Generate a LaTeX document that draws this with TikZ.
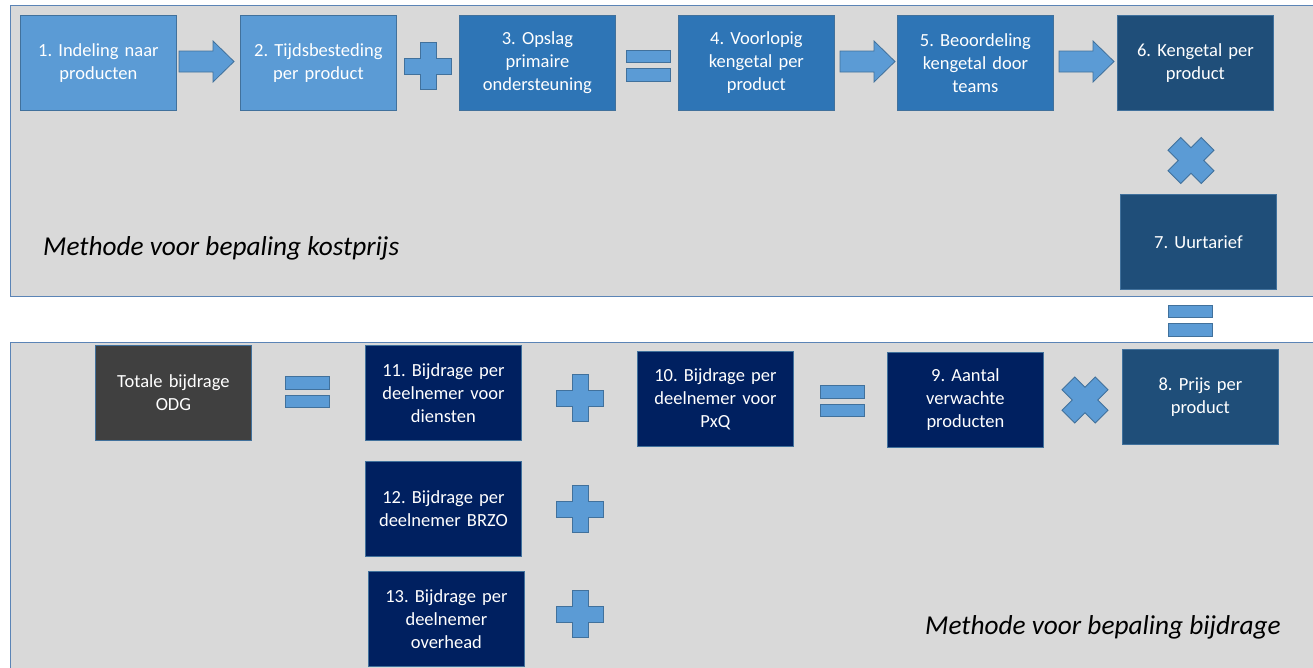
\documentclass[tikz,border=0pt]{standalone}
\usepackage{fontspec}
\setmainfont{Carlito}
\frenchspacing
\definecolor{frameb}{HTML}{5B84B6}
\definecolor{framef}{HTML}{D9D9D9}
\definecolor{lblue}{HTML}{5B9BD5}
\definecolor{mblue}{HTML}{2E75B6}
\definecolor{dblue}{HTML}{1F4E79}
\definecolor{navy}{HTML}{002060}
\definecolor{dgray}{HTML}{404040}
\definecolor{bord}{HTML}{41719C}
\tikzset{
  frame/.style={draw=frameb, fill=framef, line width=1},
  box/.style={draw=bord, line width=0.8, anchor=north west, minimum width=156, minimum height=95,
    text width=150, align=center, text=white, inner sep=0, font=\fontsize{18.5}{23}\selectfont},
  sym/.style={fill=lblue, draw=bord, line width=0.8},
  title/.style={font=\fontsize{27.3}{31}\selectfont\itshape, anchor=west, inner sep=0}
}
\newcommand{\plusat}[2]{\draw[sym] (#1,#2) ++(-8,-23.5) -- ++(16,0) -- ++(0,15.5) -- ++(15.5,0) -- ++(0,16) -- ++(-15.5,0) -- ++(0,15.5) -- ++(-16,0) -- ++(0,-15.5) -- ++(-15.5,0) -- ++(0,-16) -- ++(15.5,0) -- cycle;}
\newcommand{\timesat}[2]{\draw[sym, rotate around={45:(#1,#2)}] (#1,#2) ++(-9,-23.5) -- ++(18,0) -- ++(0,14.5) -- ++(14.5,0) -- ++(0,18) -- ++(-14.5,0) -- ++(0,14.5) -- ++(-18,0) -- ++(0,-14.5) -- ++(-14.5,0) -- ++(0,-18) -- ++(14.5,0) -- cycle;}
\newcommand{\eqat}[2]{\draw[sym] (#1,#2) ++(-22,-15.5) rectangle ++(44,12.5); \draw[sym] (#1,#2) ++(-22,3) rectangle ++(44,12.5);}
\newcommand{\arrowat}[2]{\draw[sym] (#1,#2) ++(0,-10.5) -- ++(34,0) -- ++(0,-10) -- ++(21,20.5) -- ++(-21,20.5) -- ++(0,-10) -- ++(-34,0) -- cycle;}
\begin{document}
\begin{tikzpicture}[x=1pt,y=-1pt]
\useasboundingbox (0,0) rectangle (1313,667);
% frames
\draw[frame] (10,5) rectangle (1325,296);
\draw[frame] (10,342) rectangle (1325,680);
% top row
\node[box, fill=lblue] (b1) at (20,15) {1. Indeling naar\\producten};
\node[box, fill=lblue] (b2) at (240,15) {2. Tijdsbesteding\\per product};
\node[box, fill=mblue] (b3) at (459,15) {3. Opslag\\primaire\\ondersteuning};
\node[box, fill=mblue] (b4) at (678,15) {4. Voorlopig\\kengetal per\\product};
\node[box, fill=mblue] (b5) at (897,15) {5. Beoordeling\\kengetal door\\teams};
\node[box, fill=dblue] (b6) at (1117,15) {6. Kengetal per\\product};
\node[box, fill=dblue] (b7) at (1120,194) {7. Uurtarief};
\arrowat{179}{61.5}
\plusat{428}{66}
\eqat{648}{65.5}
\arrowat{840}{61.5}
\arrowat{1059}{61.5}
\timesat{1191}{160.5}
\eqat{1190}{320.5}
% bottom
\node[box, fill=dgray] (tot) at (95,345) {Totale bijdrage\\ODG};
\node[box, fill=navy] (b11) at (365,345) {11. Bijdrage per\\deelnemer voor\\diensten};
\node[box, fill=navy] (b10) at (637,351) {10. Bijdrage per\\deelnemer voor\\PxQ};
\node[box, fill=navy] (b9) at (887,352) {9. Aantal\\verwachte\\producten};
\node[box, fill=dblue] (b8) at (1122,349) {8. Prijs per\\product};
\node[box, fill=navy] (b12) at (365,461) {12. Bijdrage per\\deelnemer BRZO};
\node[box, fill=navy] (b13) at (368,571) {13. Bijdrage per\\deelnemer\\overhead};
\eqat{307.5}{392}
\plusat{580}{398}
\eqat{842.5}{401}
\timesat{1085}{400}
\plusat{580}{509}
\plusat{580}{614}
\node[title] (t1) at (43,248) {Methode voor bepaling kostprijs};
\node[title] (t2) at (925,627) {Methode voor bepaling bijdrage};
\end{tikzpicture}
\end{document}
